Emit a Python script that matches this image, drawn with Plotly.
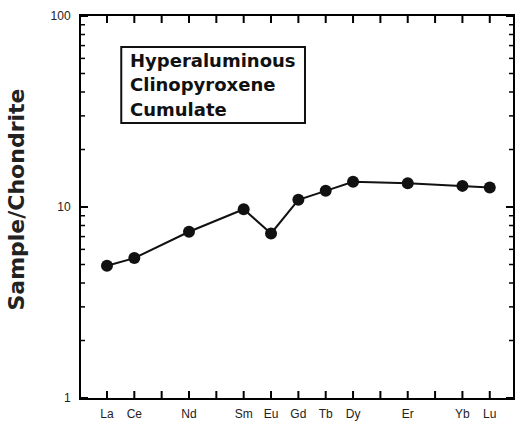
import plotly.graph_objects as go

# Axis categories (all REE positions) and their tick labels
elements = ["La", "Ce", "Pr", "Nd", "Pm", "Sm", "Eu", "Gd", "Tb", "Dy", "Ho", "Er", "Tm", "Yb", "Lu"]
tick_labels = ["La", "Ce", "", "Nd", "", "Sm", "Eu", "Gd", "Tb", "Dy", "", "Er", "", "Yb", "Lu"]

# Measured sample / chondrite values
sample_elements = ["La", "Ce", "Nd", "Sm", "Eu", "Gd", "Tb", "Dy", "Er", "Yb", "Lu"]
sample_values = [4.93, 5.40, 7.42, 9.73, 7.27, 10.9, 12.15, 13.55, 13.3, 12.9, 12.65]

y_major = [1, 10, 100]
y_minor = [2, 3, 4, 5, 6, 7, 8, 9, 20, 30, 40, 50, 60, 70, 80, 90]

box_lines = ["Hyperaluminous", "Clinopyroxene", "Cumulate"]

xpos = [elements.index(e) for e in sample_elements]

X_RANGE = [-0.95, 14.85]
Y_LOG_RANGE = [0, 2]
W, H = 516, 421
M = dict(l=81, r=3, t=16, b=23)
plot_w = W - M["l"] - M["r"]
plot_h = H - M["t"] - M["b"]
x_per_px = (X_RANGE[1] - X_RANGE[0]) / plot_w
ylog_per_px = (Y_LOG_RANGE[1] - Y_LOG_RANGE[0]) / plot_h

fig = go.Figure()

# Inward tick marks built from the tick arrays (as line traces on the axes' scales)
def tick_trace(xs, ys, width):
    return go.Scatter(x=xs, y=ys, mode="lines", line=dict(color="black", width=width),
                      hoverinfo="skip", showlegend=False, cliponaxis=False)

maj_len, min_len = 7, 4
xt_x, xt_y = [], []
y_lo, y_hi = 10 ** Y_LOG_RANGE[0], 10 ** Y_LOG_RANGE[1]
dy = 10 ** (maj_len * ylog_per_px)
for i in range(len(elements)):
    xt_x += [i, i, None, i, i, None]
    xt_y += [y_lo, y_lo * dy, None, y_hi, y_hi / dy, None]
fig.add_trace(tick_trace(xt_x, xt_y, 2))

yt_x, yt_y = [], []
for v in y_major:
    yt_x += [X_RANGE[0], X_RANGE[0] + maj_len * x_per_px, None,
             X_RANGE[1], X_RANGE[1] - maj_len * x_per_px, None]
    yt_y += [v, v, None, v, v, None]
fig.add_trace(tick_trace(yt_x, yt_y, 2))

ym_x, ym_y = [], []
for v in y_minor:
    ym_x += [X_RANGE[0], X_RANGE[0] + min_len * x_per_px, None,
             X_RANGE[1], X_RANGE[1] - min_len * x_per_px, None]
    ym_y += [v, v, None, v, v, None]
fig.add_trace(tick_trace(ym_x, ym_y, 1.5))

# Data
fig.add_trace(go.Scatter(
    x=xpos, y=sample_values, mode="lines+markers",
    line=dict(color="#111111", width=2),
    marker=dict(color="#111111", size=12),
    showlegend=False, cliponaxis=False,
))

axis_font = dict(family="Liberation Sans, Arial, sans-serif", size=12, color="#222222")

fig.update_layout(
    xaxis=dict(
        range=X_RANGE,
        tickmode="array", tickvals=list(range(len(elements))), ticktext=tick_labels,
        ticks="", showline=True, linewidth=2, linecolor="black", mirror=True,
        showgrid=False, zeroline=False, tickfont=axis_font, ticklabelstandoff=4,
    ),
    yaxis=dict(
        type="log", range=Y_LOG_RANGE,
        tickmode="array", tickvals=y_major, ticktext=[str(v) for v in y_major],
        ticks="", showline=True, linewidth=2, linecolor="black", mirror=True,
        showgrid=False, zeroline=False, ticklabelstandoff=6,
        tickfont=dict(family="Liberation Sans, Arial, sans-serif", size=12, color="#222222"),
    ),
)

# Text box
fig.add_shape(type="rect", xref="paper", yref="paper",
              x0=0.0932, x1=0.5185, y0=0.7199, y1=0.9188,
              line=dict(color="#111111", width=2), fillcolor="rgba(0,0,0,0)")
for txt, yy in zip(box_lines, [0.883, 0.8194, 0.754]):
    fig.add_annotation(text=txt, xref="paper", yref="paper", x=0.1095, y=yy,
                       xanchor="left", yanchor="middle", showarrow=False,
                       font=dict(family="DejaVu Sans, sans-serif", size=18,
                                 color="#111111", weight="bold"))

# Y axis title
fig.add_annotation(text="Sample/Chondrite", xref="paper", yref="paper",
                   x=-0.15, y=0.52, xanchor="center", yanchor="middle",
                   textangle=-90, showarrow=False,
                   font=dict(family="DejaVu Sans, sans-serif", size=22,
                             color="#222222", weight="bold"))

fig.update_layout(
    width=W, height=H,
    margin=dict(**M, autoexpand=False),
    paper_bgcolor="white", plot_bgcolor="white",
)

fig.write_html("out.html")
